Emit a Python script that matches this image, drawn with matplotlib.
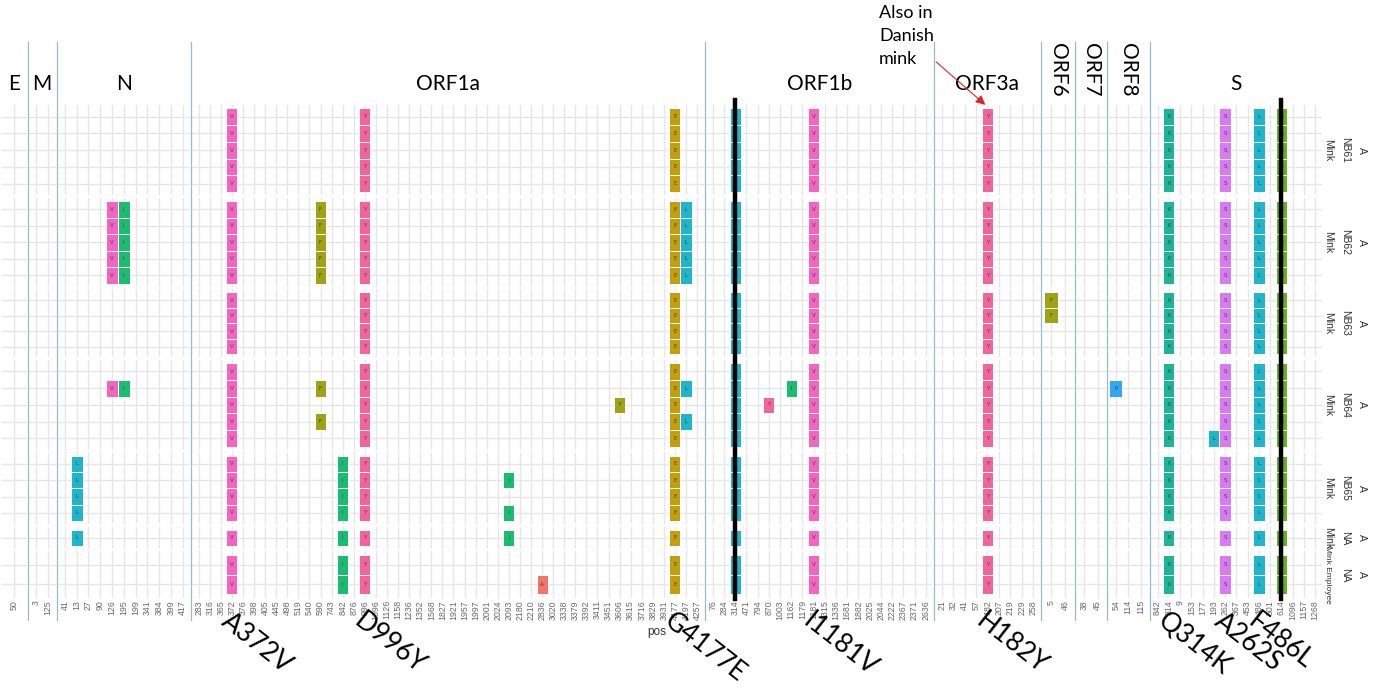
import matplotlib.pyplot as plt
from matplotlib.lines import Line2D
from matplotlib.patches import FancyArrowPatch
from matplotlib.transforms import blended_transform_factory

# x categories (amino acid positions) per gene panel
genes = ["E", "M", "N", "ORF1a", "ORF1b", "ORF3a", "ORF6", "ORF7", "ORF8", "S"]
pos_E = ["50"]
pos_M = ["3", "125"]
pos_N = ["41", "13", "27", "90", "126", "195", "199", "341", "384", "399", "417"]
pos_ORF1a = ["283", "316", "365", "372", "376", "398", "405", "445", "498", "519",
             "540", "590", "743", "842", "876", "996", "1096", "1126", "1158", "1236",
             "1352", "1568", "1827", "1921", "1957", "1997", "2001", "2024", "2093", "2180",
             "2210", "2836", "3020", "3338", "3379", "3392", "3411", "3451", "3606", "3615",
             "3716", "3829", "3931", "4177", "4197", "4257"]
pos_ORF1b = ["76", "284", "314", "471", "794", "870", "1003", "1162", "1179", "1181",
             "1315", "1336", "1681", "1882", "2025", "2044", "2222", "2367", "2371", "2636"]
pos_ORF3a = ["21", "32", "41", "57", "182", "207", "219", "229", "258"]
pos_ORF6 = ["5", "46"]
pos_ORF7 = ["38", "45"]
pos_ORF8 = ["54", "114", "115"]
pos_S = ["842", "314", "9", "153", "177", "193", "262", "367", "453", "486",
         "501", "614", "1096", "1157", "1268"]
gene_positions = [pos_E, pos_M, pos_N, pos_ORF1a, pos_ORF1b, pos_ORF3a,
                  pos_ORF6, pos_ORF7, pos_ORF8, pos_S]

# facet rows (host / farm / clade) and number of sequences in each
host = ["Mink", "Mink", "Mink", "Mink", "Mink", "Mink", "Mink Employee"]
farm = ["NB61", "NB62", "NB63", "NB64", "NB65", "NA", "NA"]
clade = ["A", "A", "A", "A", "A", "A", "A"]
n_seq = [5, 5, 4, 5, 4, 1, 2]

# rows carrying a mutation: facet index -> sequence numbers (1 = top)
every = {0: "12345", 1: "12345", 2: "1234", 3: "12345", 4: "1234", 5: "1", 6: "12"}
mutations = [
    ("N", "13", "L", {4: "1234", 5: "1"}),
    ("N", "126", "V", {1: "12345", 3: "2"}),
    ("N", "195", "I", {1: "12345", 3: "2"}),
    ("ORF1a", "372", "V", every),
    ("ORF1a", "590", "F", {1: "12345", 3: "24"}),
    ("ORF1a", "842", "I", {4: "1234", 5: "1", 6: "12"}),
    ("ORF1a", "996", "Y", every),
    ("ORF1a", "2093", "I", {4: "24", 5: "1"}),
    ("ORF1a", "2836", "A", {6: "2"}),
    ("ORF1a", "3606", "F", {3: "3"}),
    ("ORF1a", "4177", "E", every),
    ("ORF1a", "4197", "L", {1: "12345", 3: "24"}),
    ("ORF1b", "314", "L", every),
    ("ORF1b", "870", "Y", {3: "3"}),
    ("ORF1b", "1162", "I", {3: "2"}),
    ("ORF1b", "1181", "V", every),
    ("ORF3a", "182", "Y", every),
    ("ORF6", "5", "F", {2: "12"}),
    ("ORF8", "54", "P", {3: "2"}),
    ("S", "314", "K", every),
    ("S", "193", "L", {3: "5"}),
    ("S", "262", "S", every),
    ("S", "486", "L", every),
    ("S", "614", "G", every),
]

aa_colors = {"V": "#F465C2", "Y": "#F2649C", "I": "#1CBB72", "F": "#9DA314",
             "E": "#C39F0E", "L": "#1FB6CB", "K": "#1EB597", "S": "#D87AF2",
             "A": "#F1756A", "P": "#2FA7F2", "G": "#66B022"}

# called-out substitutions under the panels
callout_text = ["A372V", "D996Y", "G4177E", "I1181V", "H182Y", "Q314K", "A262S", "F486L"]
callout_gene = ["ORF1a", "ORF1a", "ORF1a", "ORF1b", "ORF3a", "S", "S", "S"]
callout_pos = ["372", "996", "4177", "1181", "182", "314", "262", "486"]

# panel sizes in pixels
panel_w = [25, 27, 134, 520, 230, 107, 32, 30, 41, 174]
panel_h = [93, 92, 70, 93, 74, 23, 48]

W, H = 1375, 688
fig = plt.figure(figsize=(W / 100, H / 100), dpi=100)
gs = fig.add_gridspec(len(farm), len(genes), left=2 / W, right=1322 / W,
                      top=1 - 105 / H, bottom=1 - 598 / H,
                      width_ratios=panel_w, height_ratios=panel_h,
                      wspace=0.018, hspace=0.035)

axes = []
for r in range(len(farm)):
    row = []
    for c in range(len(genes)):
        ax = fig.add_subplot(gs[r, c])
        n = len(gene_positions[c])
        ax.set_xlim(-0.6, n - 0.4)
        ax.set_ylim(n_seq[r] - 0.3, -0.7)
        ax.set_xticks(range(n))
        ax.set_yticks(range(n_seq[r]))
        ax.grid(True, color="#e6e6e6", lw=1.0)
        ax.set_axisbelow(True)
        ax.tick_params(length=0, labelleft=False, labelbottom=(r == len(farm) - 1), pad=1.5)
        for s in ax.spines.values():
            s.set_visible(False)
        if r == len(farm) - 1:
            ax.set_xticklabels(gene_positions[c], rotation=90, fontsize=6.3,
                               color="#6a6a6a", family="Liberation Sans")
        row.append(ax)
    axes.append(row)

for gene, pos, aa, rows in mutations:
    c = genes.index(gene)
    x = gene_positions[c].index(pos)
    for r, seqs in rows.items():
        ax = axes[r][c]
        for ch in seqs:
            y = int(ch) - 1
            ax.bar(x, 1.0, bottom=y - 0.5, width=1.0, color=aa_colors[aa],
                   edgecolor="white", lw=0.7, zorder=3)
            ax.text(x, y, aa, ha="center", va="center", fontsize=4,
                    color="#444444", zorder=4)

# strip labels on the right
for r in range(len(farm)):
    bb = axes[r][-1].get_position()
    yc = (bb.y0 + bb.y1) / 2
    for xs, lab in zip([1328, 1345, 1362], [host[r], farm[r], clade[r]]):
        fig.text(xs / W, yc, lab, rotation=270, ha="center", va="center",
                 fontsize=6 if len(lab) > 6 else 7.5, color="#333333",
                 family="Liberation Sans")

# gene names above the panels
for c, g in enumerate(genes):
    bb = axes[0][c].get_position()
    xc = (bb.x0 + bb.x1) / 2
    if g in ("ORF6", "ORF7", "ORF8"):
        fig.text(xc, 1 - 70 / H, g, rotation=270, ha="center", va="center",
                 fontsize=15, family="Lato")
    else:
        fig.text(xc, 1 - 84 / H, g, ha="center", va="center",
                 fontsize=15, family="Lato")

# thin separators between gene panels
for c in range(len(genes) - 1):
    x = (axes[0][c].get_position().x1 + axes[0][c + 1].get_position().x0) / 2
    fig.add_artist(Line2D([x, x], [1 - 42 / H, 1 - 620 / H], color="#93bdd6", lw=0.9))

# thick markers through ORF1b P314L and S D614G
for gene, pos in [("ORF1b", "314"), ("S", "614")]:
    c = genes.index(gene)
    xi = gene_positions[c].index(pos)
    trans = blended_transform_factory(axes[0][c].transData, fig.transFigure)
    fig.add_artist(Line2D([xi, xi], [1 - 100 / H, 1 - 599 / H], transform=trans,
                          color="black", lw=3.2, zorder=5))

for txt, gene, pos in zip(callout_text, callout_gene, callout_pos):
    c = genes.index(gene)
    xi = gene_positions[c].index(pos)
    trans = blended_transform_factory(axes[-1][c].transData, fig.transFigure)
    fig.text(xi, 1 - 608 / H, txt, transform=trans, rotation=-38,
             rotation_mode="anchor", ha="left", va="top", fontsize=19,
             family="Lato", zorder=6)

fig.text(657 / W, 1 - 632 / H, "pos", ha="center", va="center",
         fontsize=8.5, color="#333333", family="Liberation Sans")

# note about ORF3a H182Y
fig.text(879 / W, 1 - 5 / H, "Also in\nDanish\nmink", ha="left", va="top",
         fontsize=13, linespacing=1.55, family="Lato")
c = genes.index("ORF3a")
tip = axes[0][c].transData.transform((pos_ORF3a.index("182"), -0.6))
tip = fig.transFigure.inverted().transform(tip)
fig.add_artist(FancyArrowPatch((934 / W, 1 - 60 / H), tuple(tip),
                               transform=fig.transFigure, arrowstyle="-|>",
                               mutation_scale=14, color="#e02424", lw=0.8, zorder=6))

plt.savefig("out.png", dpi=100)
